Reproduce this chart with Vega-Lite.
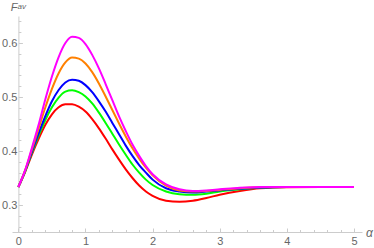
{
  "$schema": "https://vega.github.io/schema/vega-lite/v6.json",
  "width": 350,
  "height": 216,
  "autosize": "none",
  "padding": {"left": 12, "top": 16, "right": 12, "bottom": 16},
  "config": {"view": {"stroke": null}, "font": "Liberation Sans"},
  "title": {"text": "av", "anchor": "start", "orient": "top", "frame": "group", "dx": 5.5, "dy": 20, "offset": 4, "baseline": "alphabetic", "fontSize": 8, "fontWeight": "normal", "fontStyle": "italic", "color": "#666666", "font": "Liberation Sans"},
  "data": {"values": [
    {"c":"red","a":0,"f":0.3333},{"c":"red","a":0.1,"f":0.361},{"c":"red","a":0.2,"f":0.393},{"c":"red","a":0.3,"f":0.422},{"c":"red","a":0.4,"f":0.448},{"c":"red","a":0.5,"f":0.468},{"c":"red","a":0.6,"f":0.481},{"c":"red","a":0.7,"f":0.4865},{"c":"red","a":0.8,"f":0.4865},{"c":"red","a":0.9,"f":0.482},{"c":"red","a":1.0,"f":0.473},{"c":"red","a":1.1,"f":0.459},{"c":"red","a":1.2,"f":0.442},{"c":"red","a":1.3,"f":0.423},{"c":"red","a":1.4,"f":0.403},{"c":"red","a":1.5,"f":0.384},{"c":"red","a":1.6,"f":0.366},{"c":"red","a":1.7,"f":0.35},{"c":"red","a":1.8,"f":0.336},{"c":"red","a":1.9,"f":0.325},{"c":"red","a":2.0,"f":0.317},{"c":"red","a":2.2,"f":0.308},{"c":"red","a":2.4,"f":0.306},{"c":"red","a":2.6,"f":0.308},{"c":"red","a":2.8,"f":0.313},{"c":"red","a":3.0,"f":0.319},{"c":"red","a":3.3,"f":0.326},{"c":"red","a":3.6,"f":0.331},{"c":"red","a":4.0,"f":0.333},{"c":"red","a":4.5,"f":0.3333},{"c":"red","a":5.0,"f":0.3333},
    {"c":"green","a":0,"f":0.3333},{"c":"green","a":0.1,"f":0.362},{"c":"green","a":0.2,"f":0.396},{"c":"green","a":0.3,"f":0.428},{"c":"green","a":0.4,"f":0.457},{"c":"green","a":0.5,"f":0.481},{"c":"green","a":0.6,"f":0.499},{"c":"green","a":0.7,"f":0.51},{"c":"green","a":0.8,"f":0.5125},{"c":"green","a":0.9,"f":0.509},{"c":"green","a":1.0,"f":0.501},{"c":"green","a":1.1,"f":0.488},{"c":"green","a":1.2,"f":0.471},{"c":"green","a":1.3,"f":0.452},{"c":"green","a":1.4,"f":0.432},{"c":"green","a":1.5,"f":0.412},{"c":"green","a":1.6,"f":0.393},{"c":"green","a":1.7,"f":0.375},{"c":"green","a":1.8,"f":0.36},{"c":"green","a":1.9,"f":0.347},{"c":"green","a":2.0,"f":0.337},{"c":"green","a":2.2,"f":0.325},{"c":"green","a":2.4,"f":0.32},{"c":"green","a":2.6,"f":0.319},{"c":"green","a":2.8,"f":0.321},{"c":"green","a":3.0,"f":0.325},{"c":"green","a":3.3,"f":0.329},{"c":"green","a":3.6,"f":0.332},{"c":"green","a":4.0,"f":0.3333},{"c":"green","a":4.5,"f":0.3333},{"c":"green","a":5.0,"f":0.3333},
    {"c":"blue","a":0,"f":0.3333},{"c":"blue","a":0.1,"f":0.363},{"c":"blue","a":0.2,"f":0.398},{"c":"blue","a":0.3,"f":0.432},{"c":"blue","a":0.4,"f":0.464},{"c":"blue","a":0.5,"f":0.492},{"c":"blue","a":0.6,"f":0.513},{"c":"blue","a":0.7,"f":0.527},{"c":"blue","a":0.8,"f":0.532},{"c":"blue","a":0.9,"f":0.53},{"c":"blue","a":1.0,"f":0.522},{"c":"blue","a":1.1,"f":0.509},{"c":"blue","a":1.2,"f":0.492},{"c":"blue","a":1.3,"f":0.473},{"c":"blue","a":1.4,"f":0.452},{"c":"blue","a":1.5,"f":0.431},{"c":"blue","a":1.6,"f":0.41},{"c":"blue","a":1.7,"f":0.391},{"c":"blue","a":1.8,"f":0.374},{"c":"blue","a":1.9,"f":0.36},{"c":"blue","a":2.0,"f":0.347},{"c":"blue","a":2.2,"f":0.331},{"c":"blue","a":2.4,"f":0.325},{"c":"blue","a":2.6,"f":0.323},{"c":"blue","a":2.8,"f":0.325},{"c":"blue","a":3.0,"f":0.327},{"c":"blue","a":3.3,"f":0.33},{"c":"blue","a":3.6,"f":0.332},{"c":"blue","a":4.0,"f":0.3333},{"c":"blue","a":4.5,"f":0.3333},{"c":"blue","a":5.0,"f":0.3333},
    {"c":"orange","a":0,"f":0.3333},{"c":"orange","a":0.1,"f":0.364},{"c":"orange","a":0.2,"f":0.402},{"c":"orange","a":0.3,"f":0.441},{"c":"orange","a":0.4,"f":0.48},{"c":"orange","a":0.5,"f":0.515},{"c":"orange","a":0.6,"f":0.544},{"c":"orange","a":0.7,"f":0.564},{"c":"orange","a":0.8,"f":0.573},{"c":"orange","a":0.9,"f":0.571},{"c":"orange","a":1.0,"f":0.562},{"c":"orange","a":1.1,"f":0.546},{"c":"orange","a":1.2,"f":0.525},{"c":"orange","a":1.3,"f":0.501},{"c":"orange","a":1.4,"f":0.476},{"c":"orange","a":1.5,"f":0.451},{"c":"orange","a":1.6,"f":0.427},{"c":"orange","a":1.7,"f":0.405},{"c":"orange","a":1.8,"f":0.386},{"c":"orange","a":1.9,"f":0.369},{"c":"orange","a":2.0,"f":0.355},{"c":"orange","a":2.2,"f":0.336},{"c":"orange","a":2.4,"f":0.327},{"c":"orange","a":2.6,"f":0.325},{"c":"orange","a":2.8,"f":0.326},{"c":"orange","a":3.0,"f":0.328},{"c":"orange","a":3.3,"f":0.331},{"c":"orange","a":3.6,"f":0.333},{"c":"orange","a":4.0,"f":0.3335},{"c":"orange","a":4.5,"f":0.3333},{"c":"orange","a":5.0,"f":0.3333},
    {"c":"magenta","a":0,"f":0.3333},{"c":"magenta","a":0.1,"f":0.364},{"c":"magenta","a":0.2,"f":0.405},{"c":"magenta","a":0.3,"f":0.448},{"c":"magenta","a":0.4,"f":0.495},{"c":"magenta","a":0.5,"f":0.538},{"c":"magenta","a":0.6,"f":0.574},{"c":"magenta","a":0.7,"f":0.6},{"c":"magenta","a":0.8,"f":0.6115},{"c":"magenta","a":0.9,"f":0.6095},{"c":"magenta","a":1.0,"f":0.598},{"c":"magenta","a":1.1,"f":0.578},{"c":"magenta","a":1.2,"f":0.553},{"c":"magenta","a":1.3,"f":0.524},{"c":"magenta","a":1.4,"f":0.494},{"c":"magenta","a":1.5,"f":0.464},{"c":"magenta","a":1.6,"f":0.437},{"c":"magenta","a":1.7,"f":0.412},{"c":"magenta","a":1.8,"f":0.391},{"c":"magenta","a":1.9,"f":0.372},{"c":"magenta","a":2.0,"f":0.357},{"c":"magenta","a":2.2,"f":0.338},{"c":"magenta","a":2.4,"f":0.329},{"c":"magenta","a":2.6,"f":0.326},{"c":"magenta","a":2.8,"f":0.327},{"c":"magenta","a":3.0,"f":0.329},{"c":"magenta","a":3.3,"f":0.332},{"c":"magenta","a":3.6,"f":0.3335},{"c":"magenta","a":4.0,"f":0.3335},{"c":"magenta","a":4.5,"f":0.3333},{"c":"magenta","a":5.0,"f":0.3333}
  ]},
  "mark": {"type": "line", "interpolate": "monotone", "strokeWidth": 2, "clip": false},
  "encoding": {
    "x": {
      "field": "a", "type": "quantitative",
      "scale": {"domain": [-0.095, 5.12], "nice": false, "zero": false},
      "axis": {
        "values": [0,0.2,0.4,0.6,0.8,1,1.2,1.4,1.6,1.8,2,2.2,2.4,2.6,2.8,3,3.2,3.4,3.6,3.8,4,4.2,4.4,4.6,4.8,5],
        "labelExpr": "abs(datum.value - round(datum.value)) < 0.001 ? format(datum.value, 'd') : ''",
        "tickSize": {"condition": {"test": "abs(datum.value - round(datum.value)) < 0.001", "value": -4}, "value": -2.5},
        "grid": false,
        "labelFlush": false,
        "labelOverlap": false,
        "labelPadding": 7,
        "labelFontSize": 11,
        "labelColor": "#666666",
        "domainColor": "#cccccc",
        "tickColor": "#cccccc",
        "title": "α",
        "titleFontSize": 12,
        "titleFontStyle": "italic",
        "titleFontWeight": "normal",
        "titleColor": "#666666",
        "titleAlign": "center",
        "titleBaseline": "alphabetic",
        "titleX": 357,
        "titleY": 4.7
      }
    },
    "y": {
      "field": "f", "type": "quantitative",
      "scale": {"domain": [0.25, 0.65], "nice": false, "zero": false},
      "axis": {
        "values": [0.26,0.28,0.3,0.32,0.34,0.36,0.38,0.4,0.42,0.44,0.46,0.48,0.5,0.52,0.54,0.56,0.58,0.6,0.62,0.64],
        "labelExpr": "abs(datum.value*10 - round(datum.value*10)) < 0.001 ? format(datum.value, '.1f') : ''",
        "tickSize": {"condition": {"test": "abs(datum.value*10 - round(datum.value*10)) < 0.001", "value": -4}, "value": -2.5},
        "offset": -6.4,
        "grid": false,
        "labelFlush": false,
        "labelOverlap": false,
        "labelPadding": 5.5,
        "labelFontSize": 11,
        "labelColor": "#666666",
        "domainColor": "#cccccc",
        "tickColor": "#cccccc",
        "title": "F",
        "titleAngle": 0,
        "titleFontSize": 11,
        "titleFontStyle": "italic",
        "titleFontWeight": "normal",
        "titleColor": "#666666",
        "titleAlign": "center",
        "titleBaseline": "alphabetic",
        "titleX": -4.9,
        "titleY": -6
      }
    },
    "color": {
      "field": "c", "type": "nominal",
      "scale": {"domain": ["red","green","blue","orange","magenta"], "range": ["#ff0000","#00ff00","#0000ff","#ff8000","#ff00ff"]},
      "legend": null
    },
    "order": {"field": "a", "type": "quantitative"}
  }
}
